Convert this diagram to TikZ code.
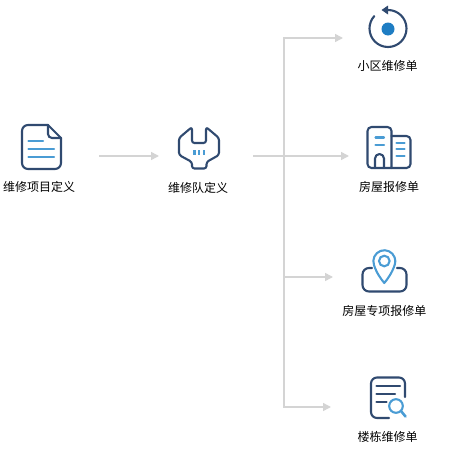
\documentclass[tikz,border=0pt]{standalone}
\usepackage{fontspec}
\setmainfont{Noto Sans CJK SC}
\usepackage{tikz}
\usetikzlibrary{arrows.meta}
\definecolor{LineGray}{RGB}{212,212,212}
\definecolor{IconDark}{RGB}{48,74,112}
\definecolor{IconBlue}{RGB}{74,156,212}
\definecolor{DotBlue}{RGB}{30,125,195}
\begin{document}
\begin{tikzpicture}[
  x=1pt,y=-1pt,
  label/.style={font=\fontsize{12}{14}\selectfont,text=black,inner sep=0pt},
  slot/.style={inner sep=0pt,outer sep=0pt,minimum height=10pt},
  arr/.style={-{Triangle[length=8pt,width=8pt]},line width=1.5pt,LineGray},
  dark/.style={draw=IconDark,line width=2.1pt,line join=round,line cap=round},
  blue/.style={draw=IconBlue,line width=2.1pt,line cap=round},
]
\useasboundingbox (0,0) rectangle (451,458);

% slots the connectors run between
\node[slot,minimum width=115pt] (Doc) at (41.5,156) {};
\node[slot,minimum width=94pt] (Team) at (206,156) {};
\node[slot,minimum width=90pt] (Area) at (388,38) {};
\node[slot,minimum width=80pt] (House) at (389,156) {};
\node[slot,minimum width=102pt] (Special) at (384,277) {};
\node[slot,minimum width=114pt] (Block) at (388,407) {};
\coordinate (Fork) at (284,156);

\foreach \s/\t in {Doc/Team,Team/House}
  \draw[arr] (\s.east)--(\t.west);
\foreach \t in {Area,Special,Block}
  \draw[arr] (Fork)|-(\t.west);

% document icon
\draw[dark,rounded corners=6pt] (48,125)--(22,125)--(22,169)--(61,169)--(61,138);
\draw[dark] (48,125)--(61,138);
\draw[dark,rounded corners=4pt] (48,125)--(48,138)--(61,138);
\draw[blue] (28.5,141)--(43,141);
\draw[blue] (28.5,149)--(54,149);
\draw[blue] (28.5,157)--(54,157);
\node[label] (DocText) at (39,186.5) {维修项目定义};

% wrench icon
\draw[dark,rounded corners=2.5pt] (192,127)--(192,143)--(206,143)
  --(206,127)--(219,138)--(219,155)--(206.5,162)--(206.5,168.5)
  --(192,168.5)--(192,162)--(179,155)--(179,138)--cycle;
\foreach \x in {194.5,199.2,204}
  \draw[blue,line cap=butt] (\x,150)--(\x,155);
\node[label] (TeamText) at (198,187.5) {维修队定义};

% ring icon
\draw[dark] (388,10) arc[start angle=-90,end angle=222,radius=18.5];
\fill[IconDark] (381.5,10)--(388,5.5)--(388,14.5)--cycle;
\fill[DotBlue] (388,29) circle[radius=6.5];
\node[label] (AreaText) at (387.7,66) {小区维修单};

% building icon
\draw[dark,rounded corners=4pt] (391.5,168)--(367.5,168)--(367.5,127)--(391.5,127)--(391.5,168);
\draw[dark,rounded corners=4pt] (391.5,136)--(410.5,136)--(410.5,168)--(391.5,168);
\draw[dark] (375,168)--(375,158.5) arc[start angle=-180,end angle=0,radius=4.5]--(384,168);
\foreach \y in {137.5,145}
  \draw[blue] (375.5,\y)--(384,\y);
\foreach \y in {142.7,149.3,156}
  \draw[blue] (396.5,\y)--(404.5,\y);
\node[label] (HouseText) at (389,187) {房屋报修单};

% pin icon
\draw[dark,rounded corners=6.5pt] (372,268)--(362.5,268)--(362.5,291.5)--(406.5,291.5)--(406.5,268)--(397,268);
\draw[blue,line join=round] (384.3,283) .. controls (381,279) and (376.5,273) .. (374,265)
  arc[start angle=-200,end angle=20,radius=11] .. controls (392,273) and (387.6,279) .. cycle;
\draw[blue] (384.3,261) circle[radius=5.3];
\node[label] (SpecialText) at (384.3,310.5) {房屋专项报修单};

% query icon
\draw[dark,rounded corners=6pt] (405,397)--(405,377.5)--(371,377.5)--(371,418)--(389,418);
\draw[dark] (376.5,386)--(400,386);
\draw[dark] (376.5,394)--(395,394);
\draw[dark] (376.5,402.3)--(386.5,402.3);
\draw[blue,fill=white] (396,406) circle[radius=6.8];
\draw[blue,line width=2.6pt] (401,411)--(405.5,416.5);
\node[label] (BlockText) at (387.7,437) {楼栋维修单};
\end{tikzpicture}
\end{document}
